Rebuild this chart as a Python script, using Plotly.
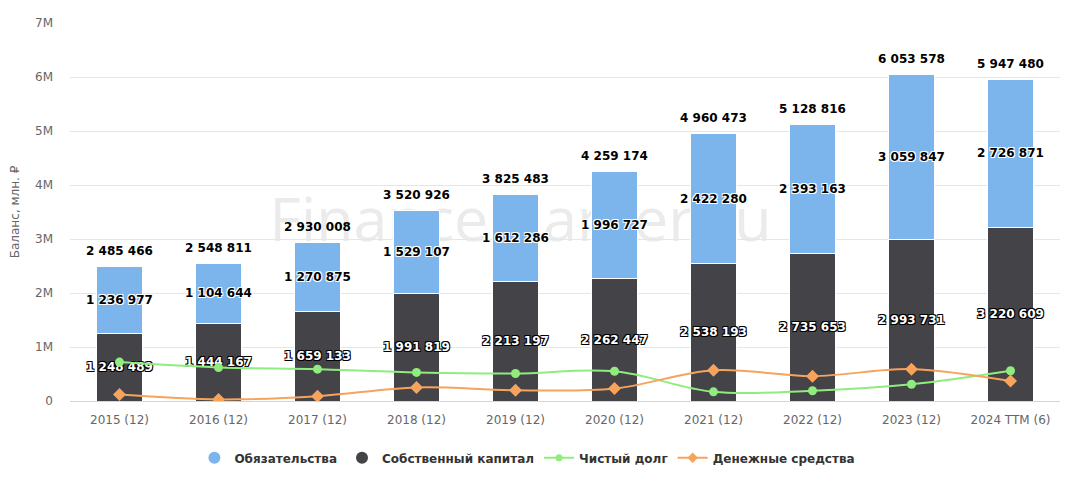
import plotly.graph_objects as go

years = ['2015 (12)', '2016 (12)', '2017 (12)', '2018 (12)', '2019 (12)',
         '2020 (12)', '2021 (12)', '2022 (12)', '2023 (12)', '2024 TTM (6)']

equity = [1248489, 1444167, 1659133, 1991819, 2213197,
          2262447, 2538193, 2735653, 2993731, 3220609]
liabilities = [1236977, 1104644, 1270875, 1529107, 1612286,
               1996727, 2422280, 2393163, 3059847, 2726871]
net_debt = [720000, 620000, 590000, 530000, 510000,
            550000, 170000, 190000, 310000, 560000]
cash = [120000, 30000, 90000, 250000, 200000,
        230000, 570000, 460000, 590000, 370000]

BLUE = '#7cb5ec'
DARK = '#434348'
GREEN = '#90ed7d'
ORANGE = '#f7a35c'


def fmt(v):
    return f'{v:,}'.replace(',', ' ')


totals = [e + l for e, l in zip(equity, liabilities)]

white_outline = ('1px 1px 0 #fff, -1px -1px 0 #fff, 1px -1px 0 #fff, '
                 '-1px 1px 0 #fff')
dark_outline = ('1px 1px 0 #000, -1px -1px 0 #000, 1px -1px 0 #000, '
                '-1px 1px 0 #000')

fig = go.Figure()

fig.add_trace(go.Bar(x=years, y=equity, name='Собственный капитал',
                     marker=dict(color=DARK, line=dict(color='#fff', width=1)),
                     text=[fmt(v) for v in equity],
                     textposition='inside', insidetextanchor='middle',
                     constraintext='none', textangle=0,
                     textfont=dict(family='DejaVu Sans', size=12, color='#fff',
                                   weight='bold', shadow=dark_outline),
                     showlegend=False))
fig.add_trace(go.Bar(x=years, y=liabilities, name='Обязательства',
                     marker=dict(color=BLUE, line=dict(color='#fff', width=1)),
                     text=[fmt(v) for v in liabilities],
                     textposition='inside', insidetextanchor='middle',
                     constraintext='none', textangle=0,
                     textfont=dict(family='DejaVu Sans', size=12, color='#000',
                                   weight='bold', shadow=white_outline),
                     showlegend=False))

# total above each stack
fig.add_trace(go.Scatter(x=years, y=totals, mode='markers+text',
                         marker=dict(size=12, opacity=0),
                         text=[fmt(v) for v in totals],
                         textposition='top center',
                         textfont=dict(family='DejaVu Sans', size=12,
                                       color='#000', weight='bold'),
                         showlegend=False, hoverinfo='skip'))

fig.add_trace(go.Scatter(x=years, y=net_debt, name='Чистый долг',
                         mode='lines+markers',
                         line=dict(color=GREEN, width=2, shape='spline'),
                         marker=dict(symbol='circle', size=9, color=GREEN),
                         showlegend=False))
fig.add_trace(go.Scatter(x=years, y=cash, name='Денежные средства',
                         mode='lines+markers',
                         line=dict(color=ORANGE, width=2, shape='spline'),
                         marker=dict(symbol='diamond', size=10, color=ORANGE),
                         showlegend=False))

# legend entries
fig.add_trace(go.Scatter(x=[None], y=[None], mode='markers', name='Обязательства',
                         marker=dict(symbol='circle', size=12, color=BLUE)))
fig.add_trace(go.Scatter(x=[None], y=[None], mode='markers',
                         name='Собственный капитал',
                         marker=dict(symbol='circle', size=12, color=DARK)))
fig.add_trace(go.Scatter(x=[None], y=[None], mode='lines+markers',
                         name='Чистый долг',
                         line=dict(color=GREEN, width=2),
                         marker=dict(symbol='circle', size=7, color=GREEN)))
fig.add_trace(go.Scatter(x=[None], y=[None], mode='lines+markers',
                         name='Денежные средства',
                         line=dict(color=ORANGE, width=2),
                         marker=dict(symbol='diamond', size=8, color=ORANGE)))

fig.add_shape(type='rect', xref='paper', yref='paper',
              x0=0.2, x1=0.71, y0=0.38, y1=0.57,
              line=dict(width=0), fillcolor='rgba(0,0,0,0)', layer='below',
              label=dict(text='FinanceMarker.ru', textposition='middle center',
                         font=dict(family='Open Sans', size=61,
                                   color='#ebebeb')))

# page body adds an 8px offset, so the figure is a bit smaller than the window
fig.update_layout(
    width=1060, height=476,
    barmode='stack', bargap=0.528,
    plot_bgcolor='#fff', paper_bgcolor='#fff',
    margin=dict(l=62, r=8, t=15, b=83, autoexpand=False),
    font=dict(family='DejaVu Sans', size=12, color='#666666'),
    legend=dict(orientation='h', xref='container', x=0.49, xanchor='center',
                yref='container', y=0.055, yanchor='middle',
                font=dict(family='DejaVu Sans', size=12, color='#333333',
                          weight='bold'),
                itemwidth=30, traceorder='normal'),
    xaxis=dict(showline=True, linecolor='#ccd6eb', linewidth=1,
               range=[-0.5, len(years) - 0.5],
               automargin=False, ticklabelstandoff=8,
               tickfont=dict(size=12, color='#666666'), ticks=''),
    yaxis=dict(range=[0, 7000000], dtick=1000000, tickformat='~s',
               gridcolor='#e6e6e6', gridwidth=1, zeroline=False,
               automargin=False, ticklabelstandoff=16,
               tickfont=dict(size=12, color='#666666'),
               title=dict(text='Баланс, млн. ₽', standoff=12,
                          font=dict(size=12, color='#666666'))),
    showlegend=True,
)

fig.write_html('out.html')
